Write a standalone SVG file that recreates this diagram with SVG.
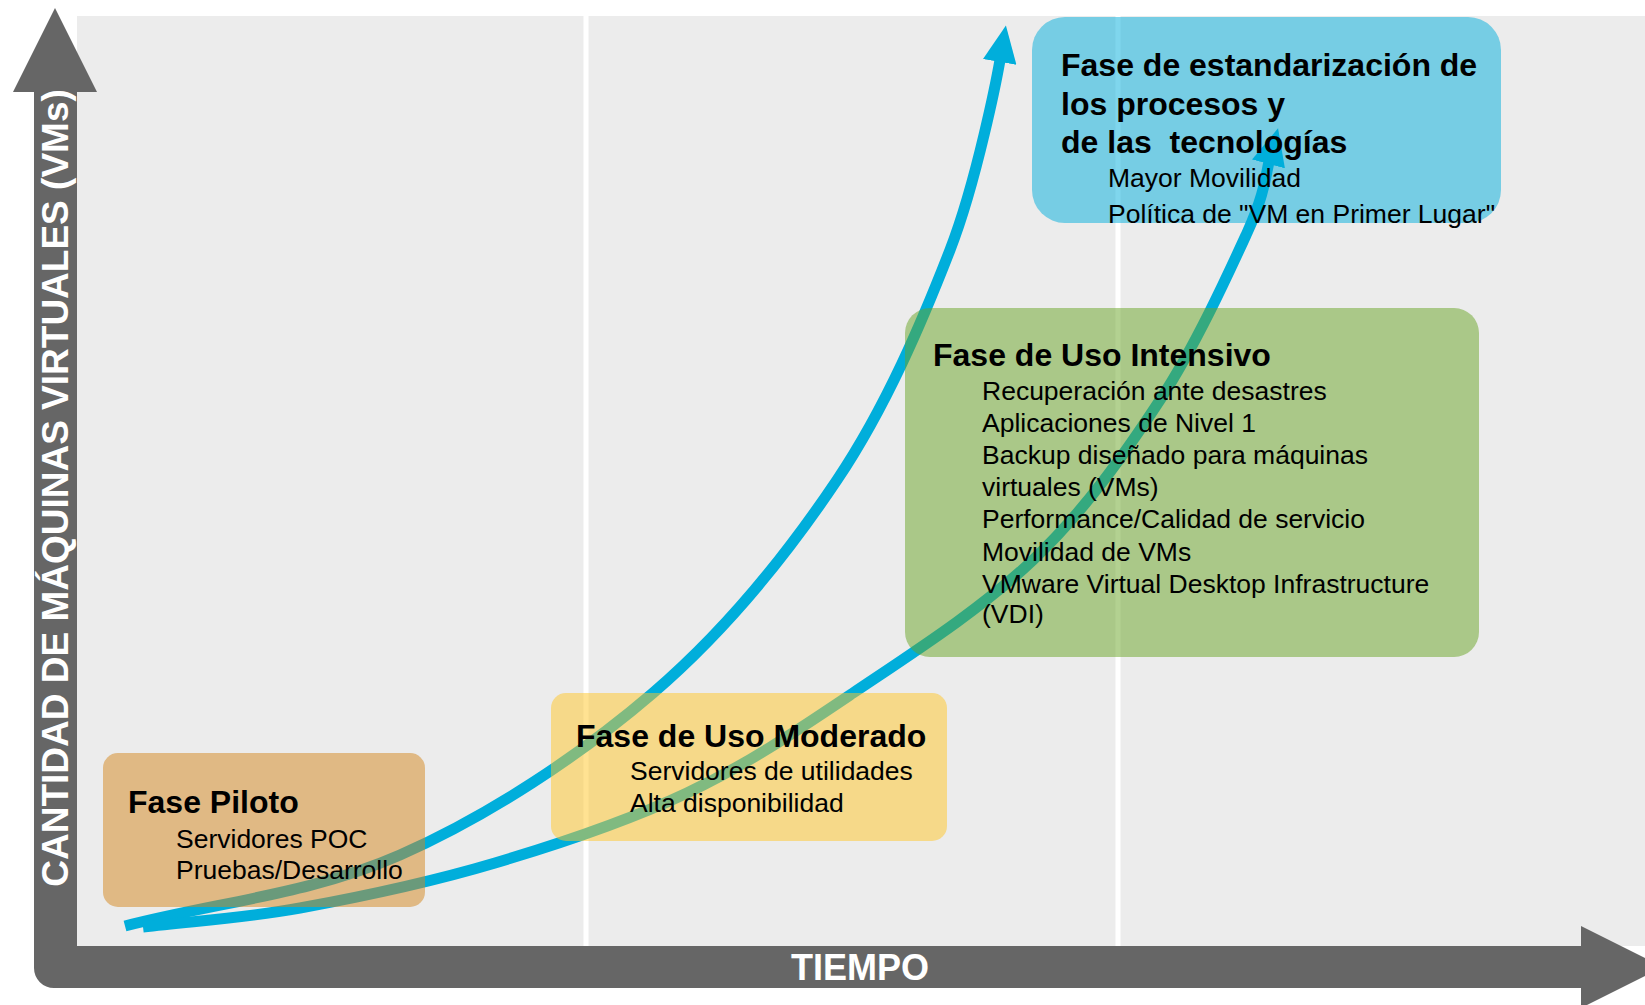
<svg xmlns="http://www.w3.org/2000/svg" width="1645" height="1005" viewBox="0 0 1645 1005">
  <defs>
    <style>
      text { font-family: "Liberation Sans", Arial, sans-serif; fill: #000; }
      .title { font-size: 32px; font-weight: bold; }
      .item { font-size: 26.5px; }
      .axislabel { font-size: 37px; font-weight: bold; fill: #FFFFFF; }
      .box { fill-opacity: 0.5; }
      .curve { fill: none; stroke: #00AEDB; stroke-width: 11; stroke-linecap: butt; marker-end: url(#ah); }
      .grid { stroke: #FFFFFF; stroke-width: 5; }
    </style>
    <marker id="ah" markerUnits="userSpaceOnUse" viewBox="0 0 37 34" markerWidth="37" markerHeight="34" refX="2" refY="17" orient="auto">
      <path d="M0,0 L37,17 L0,34 Z" fill="#00AEDB"/>
    </marker>
  </defs>

  <rect x="0" y="0" width="1645" height="1005" fill="#FFFFFF"/>
  <g id="plot-area">
    <rect x="77" y="16" width="1568" height="930" fill="#ECECEC"/>
    <line class="grid" x1="586" y1="16" x2="586" y2="946"/>
    <line class="grid" x1="1118" y1="16" x2="1118" y2="946"/>
  </g>

  <g id="axes">
    <path d="M55,8 L97,92 L77,92 L77,946 L1581,946 L1581,926 L1663,967 L1581,1008 L1581,988 L54,988 A20,20 0 0 1 34,968 L34,92 L13,92 Z" fill="#666666"/>
    <text class="axislabel" text-anchor="middle" transform="translate(68,488) rotate(-90)">CANTIDAD DE MÁQUINAS VIRTUALES (VMs)</text>
    <text class="axislabel" x="860" y="980" text-anchor="middle" style="font-size:36px">TIEMPO</text>
  </g>

  <g id="connectors">
    <path class="curve" d="M125,926 C216.7,902.3 312,893.8 400,855 C488,816.2 580.2,755.5 653,693 C725.8,630.5 787.5,553.8 837,480 C886.5,406.2 922.8,320 950,250 C977.2,180 997.8,72.8 1000,60"/>
    <path class="curve" d="M143,927 C195.3,920.7 241.3,918.7 300,908 C358.7,897.3 430.5,882.2 495,863 C559.5,843.8 627.3,821.3 687,793 C746.7,764.7 795.3,731.8 853,693 C910.7,654.2 981.8,608.8 1033,560 C1084.2,511.2 1124.3,454.5 1160,400 C1195.7,345.5 1228.8,272.7 1247,233 C1265.2,193.3 1265.9,173.6 1269,162"/>
  </g>

  <g id="fase-piloto">
    <rect class="box" x="103" y="753" width="322" height="154" rx="15" fill="#D3861B"/>
    <text class="title" x="128" y="813">Fase Piloto</text>
    <text class="item" x="176" y="848">Servidores POC</text>
    <text class="item" x="176" y="879">Pruebas/Desarrollo</text>
  </g>

  <g id="fase-uso-moderado">
    <rect class="box" x="551" y="693" width="396" height="148" rx="15" fill="#FFC525"/>
    <text class="title" x="576" y="747">Fase de Uso Moderado</text>
    <text class="item" x="630" y="780">Servidores de utilidades</text>
    <text class="item" x="630" y="812">Alta disponibilidad</text>
  </g>

  <g id="fase-uso-intensivo">
    <rect class="box" x="905" y="308" width="574" height="349" rx="25" fill="#67A323"/>
    <text class="title" x="933" y="366">Fase de Uso Intensivo</text>
    <text class="item" x="982" y="400">Recuperación ante desastres</text>
    <text class="item" x="982" y="432">Aplicaciones de Nivel 1</text>
    <text class="item" x="982" y="464">Backup diseñado para máquinas</text>
    <text class="item" x="982" y="496">virtuales (VMs)</text>
    <text class="item" x="982" y="528">Performance/Calidad de servicio</text>
    <text class="item" x="982" y="561">Movilidad de VMs</text>
    <text class="item" x="982" y="593">VMware Virtual Desktop Infrastructure</text>
    <text class="item" x="982" y="623">(VDI)</text>
  </g>

  <g id="fase-estandarizacion">
    <rect class="box" x="1032" y="17" width="469" height="206" rx="33" fill="#00ADDB"/>
    <text class="title" x="1061" y="76">Fase de estandarización de</text>
    <text class="title" x="1061" y="115">los procesos y</text>
    <text class="title" x="1061" y="153" xml:space="preserve" style="white-space:pre">de las  tecnologías</text>
    <text class="item" x="1108" y="187">Mayor Movilidad</text>
    <text class="item" x="1108" y="223">Política de "VM en Primer Lugar"</text>
  </g>
</svg>
